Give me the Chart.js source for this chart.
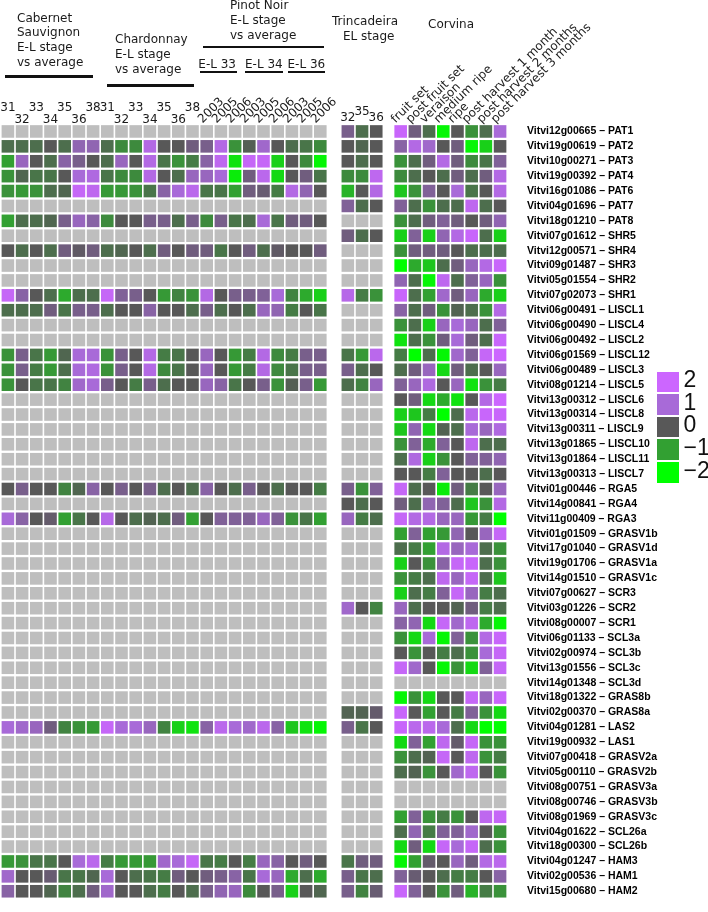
<!DOCTYPE html>
<html>
<head>
<meta charset="utf-8">
<script src="https://cdn.jsdelivr.net/npm/chart.js@4.4.1/dist/chart.umd.min.js"></script>
<style>
  body { margin: 0; background: #fff; }
  #wrap { position: relative; width: 708px; height: 912px; overflow: hidden; }
  #wrap canvas { position: absolute; left: 0; top: 0; }
  .t { position: absolute; font-family: 'DejaVu Sans', sans-serif; font-size: 12px; line-height: 14.8px; color: #1a1a1a; white-space: nowrap; }
  .rot { transform-origin: 0 100%; transform: rotate(-45deg); line-height: 12px; }
  .rule { position: absolute; background: #111; }
  .sw { position: absolute; left: 657px; width: 21.6px; height: 20.5px; }
  .lg { position: absolute; left: 683.5px; font-family: 'Liberation Sans', Arial, sans-serif; font-size: 23px; line-height: 21px; color: #111; }
</style>
</head>
<body>
<div id="wrap">
  <canvas id="heat" width="708" height="912"></canvas>

  <div class="t" style="left:17px;top:10.5px">Cabernet<br>Sauvignon<br>E-L stage<br>vs average</div>
  <div class="rule" style="left:5px;top:75px;width:88px;height:3px"></div>
  <div class="t" style="left:115px;top:32.3px">Chardonnay<br>E-L stage<br>vs average</div>
  <div class="rule" style="left:107px;top:83.5px;width:86.5px;height:3px"></div>
  <div class="t" style="left:230px;top:-1.8px">Pinot Noir<br>E-L stage<br>vs average</div>
  <div class="rule" style="left:203px;top:45.7px;width:120.5px;height:2.7px"></div>
  <div class="t" style="left:198.3px;top:57.2px">E-L 33</div>
  <div class="t" style="left:245px;top:57.2px">E-L 34</div>
  <div class="t" style="left:287.5px;top:57.2px">E-L 36</div>
  <div class="rule" style="left:200px;top:70.7px;width:37.3px;height:2.7px"></div>
  <div class="rule" style="left:245px;top:70.7px;width:38.3px;height:2.7px"></div>
  <div class="rule" style="left:288.3px;top:70.7px;width:36.7px;height:2.7px"></div>
  <div class="t" style="left:332px;top:13.9px">Trincadeira</div>
  <div class="t" style="left:343px;top:28.9px">EL stage</div>
  <div class="t" style="left:428px;top:17.2px">Corvina</div>
</div>
<script>
// genes (rows, top to bottom)
const genes = [
  'Vitvi12g00665 – PAT1', 'Vitvi19g00619 – PAT2', 'Vitvi10g00271 – PAT3', 'Vitvi19g00392 – PAT4',
  'Vitvi16g01086 – PAT6', 'Vitvi04g01696 – PAT7', 'Vitvi18g01210 – PAT8', 'Vitvi07g01612 – SHR5',
  'Vitvi12g00571 – SHR4', 'Vitvi09g01487 – SHR3', 'Vitvi05g01554 – SHR2', 'Vitvi07g02073 – SHR1',
  'Vitvi06g00491 – LISCL1', 'Vitvi06g00490 – LISCL4', 'Vitvi06g00492 – LISCL2', 'Vitvi06g01569 – LISCL12',
  'Vitvi06g00489 – LISCL3', 'Vitvi08g01214 – LISCL5', 'Vitvi13g00312 – LISCL6', 'Vitvi13g00314 – LISCL8',
  'Vitvi13g00311 – LISCL9', 'Vitvi13g01865 – LISCL10', 'Vitvi13g01864 – LISCL11', 'Vitvi13g00313 – LISCL7',
  'Vitvi01g00446 – RGA5', 'Vitvi14g00841 – RGA4', 'Vitvi11g00409 – RGA3', 'Vitvi01g01509 – GRASV1b',
  'Vitvi17g01040 – GRASV1d', 'Vitvi19g01706 – GRASV1a', 'Vitvi14g01510 – GRASV1c', 'Vitvi07g00627 – SCR3',
  'Vitvi03g01226 – SCR2', 'Vitvi08g00007 – SCR1', 'Vitvi06g01133 – SCL3a', 'Vitvi02g00974 – SCL3b',
  'Vitvi13g01556 – SCL3c', 'Vitvi14g01348 – SCL3d', 'Vitvi18g01322 – GRAS8b', 'Vitvi02g00370 – GRAS8a',
  'Vitvi04g01281 – LAS2', 'Vitvi19g00932 – LAS1', 'Vitvi07g00418 – GRASV2a', 'Vitvi05g00110 – GRASV2b',
  'Vitvi08g00751 – GRASV3a', 'Vitvi08g00746 – GRASV3b', 'Vitvi08g01969 – GRASV3c', 'Vitvi04g01622 – SCL26a',
  'Vitvi18g00300 – SCL26b', 'Vitvi04g01247 – HAM3', 'Vitvi02g00536 – HAM1', 'Vitvi15g00680 – HAM2'
];

const cabernetStages = ['31', '32', '33', '34', '35', '36', '38'];
const chardonnayStages = ['31', '32', '33', '34', '35', '36', '38'];
const pinotYears = ['2003', '2005', '2006', '2003', '2005', '2006', '2003', '2005', '2006'];
const trincadeiraStages = ['32', '35', '36'];
const corvinaStages = ['fruit set', 'post fruit set', 'veraison', 'medium ripe', 'ripe',
  'post harvest 1 month', 'post harvest 2 months', 'post harvest 3 months'];
const legendTicks = [2, 1, 0, -1, -2];

// values per gene (null row = no data)
const cabernet = [
  null,
  [-0.3, -0.3, -0.3, 0, -0.3, 0.7, 0.7],
  [-1, 0.8, 0, -0.3, 0.6, 0.4, 0],
  [-0.8, -0.2, -0.4, -0.4, 0, 1.0, 1.2],
  [-0.8, -0.9, -0.8, -0.3, -0.2, 1.8, 1.6],
  null,
  [-1, -0.3, -0.3, -0.2, 0.4, 0.8, 0.6],
  null,
  [0, -0.3, 0, -0.3, 0.3, 0.1, 0.3],
  null, null,
  [1.8, 0.6, 0, -0.3, -1.1, -0.3, -0.3],
  [-0.3, -0.3, -0.3, 0.3, -0.4, 0.4, 0.4],
  null, null,
  [-0.8, 0.4, -0.4, -0.9, -0.2, 1.0, 1.0],
  [-0.8, 0.4, -0.5, -0.9, -0.3, 1.0, 1.2],
  [-0.8, 0, -0.4, -0.4, -0.6, 0.9, 1.0],
  null, null, null, null, null, null,
  [0, 0.4, 0, 0, -0.6, -0.2, 0.6],
  null,
  [1.0, 0.6, 0, 0.15, -1.0, -0.4, 0],
  null, null, null, null, null, null, null, null, null, null, null, null, null,
  [1.0, 0.9, 0.8, 0.3, -0.6, -0.8, -0.9],
  null, null, null, null, null, null, null, null,
  [-0.9, -0.8, -0.4, -0.4, 0, 1.0, 1.5],
  [0.9, 0, 0, 0.2, -0.4, -0.4, -0.2],
  [0.6, 0, 0, -0.2, -0.6, -0.3, 0.3]
];

const chardonnay = [
  null,
  [-0.3, -0.7, -0.7, 1.3, 0, 0, 0.3],
  [-0.3, 0.8, 0, 1.3, -0.4, -0.8, -0.5],
  [-0.4, -0.7, -0.7, 1.3, 0, -0.3, 0.8],
  [-0.9, -0.9, -0.8, -0.4, 0.6, 1.0, 1.5],
  null,
  [-0.7, 0, 0, 0.4, 0.4, -0.3, 0.4],
  null,
  [-0.3, -0.2, 0, -0.3, 0.3, 0, 0.3],
  null, null,
  [1.8, 0.5, 0.4, 0, -0.9, -0.6, -0.8],
  [-0.3, 0, 0, 0.6, 0, 0, -0.3],
  null, null,
  [-0.8, 0.4, 0, 1.3, -0.5, -0.4, 0],
  [-0.8, 0.4, 0, 1.3, -0.7, -0.4, 0],
  [0.4, 0, -0.5, 0.4, -0.3, 0, 0],
  null, null, null, null, null, null,
  [0, 0.4, 0, 0.4, -0.3, 0, -0.3],
  null,
  [1.4, 0, -0.3, -0.15, -0.3, 0.3, -1.0],
  null, null, null, null, null, null, null, null, null, null, null, null, null,
  [1.8, 1.0, 1.0, 0.8, -0.6, -1.5, -1.7],
  null, null, null, null, null, null, null, null,
  [-0.5, -0.9, -0.9, -0.9, 0.9, 1.0, 1.8],
  [1.0, 0, -0.3, -0.4, -0.5, 0.3, 0],
  [0.9, 0, 0, -0.3, -0.5, 0, -0.3]
];

const pinotNoir = [
  null,
  [0.4, 1.3, -0.8, -0.1, 0.9, 0, -0.3, -0.4, -0.7],
  [0.6, 1.6, -1.7, 1.8, 1.8, -1.5, 0, -0.7, -1.9],
  [0.8, 1.0, -1.8, 0.3, 1.5, -1.6, 0, 0.3, -0.4],
  [-0.4, -0.4, -1.0, 0.3, 0.2, -0.5, 1.3, 0.7, 0],
  null,
  [-0.7, 0.4, -0.4, -0.3, 1.0, -0.4, 0.3, 0.3, 0],
  null,
  [0.3, -0.4, 0, 0.3, -0.3, 0.1, 0, 0, 0.3],
  null, null,
  [1.3, 0, 0.4, 0.4, 0.5, 1.0, -0.6, -1.1, -1.5],
  [0.4, -0.3, 0, -0.3, 0.8, 0.7, -0.5, 0, -0.4],
  null, null,
  [0.8, 0, -0.9, -0.5, 1.3, -0.7, -0.5, 0.4, 0.4],
  [0.8, 0, -0.9, -0.5, 1.3, -0.7, -0.4, 0.4, 0.4],
  [0.8, 0.6, -0.4, 0, 0.4, -0.8, -0.1, 0.4, -0.9],
  null, null, null, null, null, null,
  [0.6, 0, -0.3, 0.4, 0, -0.3, 0, 0, -0.5],
  null,
  [0, 0.5, 0.5, 0.5, 0.8, 0.5, -0.8, -0.4, -1.0],
  null, null, null, null, null, null, null, null, null, null, null, null, null,
  [0.6, 1.5, 1.0, 0.9, 1.5, 0.6, -1.4, -1.7, -1.9],
  null, null, null, null, null, null, null, null,
  [-0.4, -0.5, 0, -0.5, 0.8, 0.6, 0, 0.3, 0],
  [0.3, 0.4, 0.6, -0.4, 1.0, 0.8, -1.1, -0.3, -1.1],
  [0.4, 0.7, 0.8, -0.7, 0, 0.4, -1.5, 0, -0.2]
];

const trincadeira = [
  [0.4, -0.3, 0], [0, -0.2, 0], [0, -0.3, 0], [-0.7, -0.7, 1.6], [-1.2, 0, 1.3], [0.5, -0.3, 0],
  null,
  [0.3, -0.3, 0],
  null, null, null,
  [1.4, -0.5, -0.8],
  null, null, null,
  [-0.4, -0.9, 1.5], [0.4, -0.3, 0], [-0.3, -0.6, 0.8],
  null, null, null, null, null, null,
  [0.4, -0.8, 0.5], [0, -0.3, 0], [0.8, -0.5, -0.3],
  null, null, null, null, null,
  [0.9, 0, -0.6],
  null, null, null, null, null, null,
  [-0.15, -0.15, 0.15], [0.4, -0.4, 0],
  null, null, null, null, null, null, null, null,
  [-0.4, 0.3, 0.3], [0.4, -0.4, -0.3], [0.4, -0.6, 0.2]
];

const corvina = [
  [1.9, 0.3, -0.3, -1.9, 0, -0.8, -0.3, 1.0],
  [0.6, 1.3, 0.9, 0, 0.3, -1.9, -1.5, 0],
  [-0.8, -0.3, 0.3, 1.3, 0.3, -0.7, -0.4, 0.5],
  [-0.7, -0.3, 0, -0.3, 0.3, -0.3, 0.3, 1.3],
  [-1.4, -0.8, 0.5, 0, 1.0, -0.4, 0, 1.3],
  [0.5, -0.3, -0.8, -0.3, -0.3, 1.6, -0.3, 0],
  [-0.8, -0.3, 0.3, 0.5, 0.3, 0, 0.3, 0.7],
  [-1.5, 0.5, -1.5, 0.7, 1.3, 1.9, -0.3, -1.5],
  [-0.8, 0.3, 0.3, 0.3, 0, -0.3, -0.3, -0.3],
  [-2, -1.1, -1.4, -0.3, 0.3, 0.8, 1.3, 1.9],
  [0.7, -0.3, -1.9, 1.6, -0.3, 0.5, 0.8, -0.8],
  [1.9, -0.3, -1.0, 0.9, 0.3, 0.8, -1.1, -1.5],
  [0.6, -0.3, 0.3, -0.8, -0.15, -0.3, -0.8, 1.3],
  [-0.8, -0.3, -1.5, 0.8, 1.0, 0.8, -0.3, 0.5],
  [-1.7, -0.3, -0.8, 0.3, 1.0, 0.3, -0.3, 1.9],
  [-0.5, -2, -0.3, -1.9, 0.9, 0.5, 1.8, 2],
  [-0.3, 0.3, 0.8, -1.6, 0.3, -0.3, 0, 0.8],
  [0.5, 0.8, 1.2, 0, 0.8, -1.7, -0.8, -0.5],
  [0, 0.3, -1.6, -1.1, -1.7, 0, 1.3, 2],
  [-1.5, -1.4, -0.5, -2, -0.3, 1.5, 1.9, 1.9],
  [-1.4, 0.7, -1.6, -0.15, -0.3, 1.0, 0.8, 1.2],
  [-0.8, 0.5, -1.1, 0.5, 0, 1.6, -0.3, -0.3],
  [-0.3, 1.2, -1.5, -0.8, 0, 0.5, 0.5, 0.7],
  [0, 0, -0.5, 0.5, 0, 0, -0.3, 0],
  [1.8, -0.3, 0, -1.8, 0.3, -0.5, 0, 0.8],
  [0.3, -0.3, 0.7, 0.5, -0.3, -1.4, -0.8, 1.3],
  [1.8, 1.3, 1.3, 0.8, 0.8, -0.9, -0.5, -2],
  [-1.0, 0.5, -1.0, -0.9, 0.7, 0, 0.8, 1.8],
  [-0.3, -0.5, -1.0, 1.3, 0.8, 1.0, -0.3, -0.8],
  [-1.5, 0, -0.8, 0.6, 1.8, 1.9, -0.3, -0.8],
  [-0.8, -0.5, -0.3, 1.6, 0.8, 1.8, -0.3, -1.4],
  [-1.5, -0.3, -0.5, 0.5, 1.8, 0.8, -0.5, -0.3],
  [0.8, -0.3, 0, 0, -0.15, 0.3, -0.5, -0.3],
  [0.6, 0.7, -1.6, 1.8, 0.9, 1.6, -1.1, -1.9],
  [-0.8, -1.6, 1.0, -1.9, 0.5, -0.8, 1.3, 1.9],
  [0, -0.8, 0, -0.5, -0.3, -0.8, 1.0, 1.8],
  [1.8, 0.9, 0, -1.9, -0.8, -1.6, 0.5, 1.8],
  null,
  [-1.9, -0.8, -1.6, 0, 0, 1.8, 0.8, 1.9],
  [1.9, 0, -1.0, 0, -0.5, 0.5, -0.8, -1.6],
  [1.9, 1.5, 1.5, 1.0, -0.3, -1.6, -2, -2],
  [-1.6, 0.5, -1.0, 1.6, 0.15, 1.8, -0.8, -0.8],
  [-0.8, -0.3, -0.15, 1.8, 0, 1.6, -0.8, -0.5],
  [-0.3, -0.15, -0.8, 0, 0.9, 1.6, 0, -0.8],
  null, null,
  [-1.0, 0.5, -0.8, -0.5, -0.8, 0, 1.6, 1.8],
  [-0.3, 0.7, -0.5, 0.5, 0.5, 0.9, 0, -0.8],
  [-1.6, 0.3, -1.6, 1.8, 1.0, 1.8, -0.3, -0.8],
  [-1.9, -1.0, 0.15, 0, 0.8, 0.3, 1.3, 1.5],
  [0.5, 0.2, 0, -0.3, -0.5, -0.5, 0, 0.6],
  [1.9, 0.5, 0, -0.8, 0.3, -1.2, -0.5, -0.8]
];

// colour scale: green (-2) .. grey (0) .. violet (2), missing = light grey
const stops = [[-2, [0, 255, 0]], [-1, [50, 160, 50]], [0, [88, 88, 88]], [1, [168, 106, 216]], [2, [204, 102, 255]]];
function colorFor(v) {
  if (v === null || v === undefined) return '#bebebe';
  v = Math.max(-2, Math.min(2, v));
  for (let i = 0; i < stops.length - 1; i++) {
    const [a, ca] = stops[i];
    const [b, cb] = stops[i + 1];
    if (v <= b) {
      const t = (v - a) / (b - a);
      return `rgb(${ca.map((c, k) => Math.round(c + (cb[k] - c) * t)).join(',')})`;
    }
  }
}

// column slots (1 slot = one cell width)
const COL_PX = 14.2, FIRST_PX = 7.9, AREA_RIGHT = 512;
const blocks = [
  { data: cabernet, start: 0, labels: cabernetStages },
  { data: chardonnay, start: 7, labels: chardonnayStages },
  { data: pinotNoir, start: 14, labels: pinotYears },
  { data: trincadeira, start: 23.94, labels: trincadeiraStages },
  { data: corvina, start: 27.66, labels: corvinaStages }
];

const datasets = blocks.map(b => ({
  data: b.data.flatMap((row, r) => (row || b.labels.map(() => null)).map((v, c) => ({ x: b.start + c, y: r, v }))),
  pointStyle: 'rect',
  pointRadius: 8.9,
  pointHoverRadius: 8.9,
  pointBorderWidth: 0,
  pointHoverBorderWidth: 0,
  pointBackgroundColor: ctx => colorFor(ctx.raw ? ctx.raw.v : null),
  pointHoverBackgroundColor: ctx => colorFor(ctx.raw ? ctx.raw.v : null),
  clip: false
}));

const chart = new Chart(document.getElementById('heat'), {
  type: 'scatter',
  data: { datasets },
  options: {
    responsive: false,
    animation: false,
    events: [],
    layout: { autoPadding: false, padding: { left: 0, right: 0, top: 124, bottom: 1 } },
    plugins: { legend: { display: false }, tooltip: { enabled: false } },
    scales: {
      x: {
        type: 'linear', display: false,
        min: -FIRST_PX / COL_PX, max: (AREA_RIGHT - FIRST_PX) / COL_PX
      },
      y: {
        type: 'linear', position: 'right', reverse: true,
        min: -0.5, max: genes.length - 0.5,
        afterBuildTicks: axis => { axis.ticks = genes.map((_, i) => ({ value: i })); },
        afterFit: axis => { axis.width = 708 - AREA_RIGHT; },
        grid: { display: false },
        border: { display: false },
        ticks: {
          autoSkip: false, padding: 7, color: '#000',
          font: { family: "'Liberation Sans', Arial, sans-serif", size: 10.5, weight: 'bold' },
          callback: v => genes[v]
        }
      }
    }
  }
});

// column labels placed from the x scale
const wrap = document.getElementById('wrap');
const xs = chart.scales.x;
function addText(txt, left, top, cls) {
  const d = document.createElement('div');
  d.className = cls;
  d.textContent = txt;
  d.style.left = left + 'px';
  d.style.top = top + 'px';
  wrap.appendChild(d);
  return d;
}
function addCentered(txt, cx, top) {
  const d = addText(txt, cx, top, 't');
  d.style.transform = 'translateX(-50%)';
}
[blocks[0], blocks[1]].forEach(b => {
  b.labels.forEach((l, i) => addCentered(l, xs.getPixelForValue(b.start + i), i % 2 === 0 ? 99.5 : 112.2));
});
blocks[3].labels.forEach((l, i) => addCentered(l, xs.getPixelForValue(blocks[3].start + i), i === 1 ? 103.9 : 109.5));
[blocks[2], blocks[4]].forEach(b => {
  b.labels.forEach((l, i) => addText(l, xs.getPixelForValue(b.start + i) - 3.2, 112.8, 't rot'));
});

// colour legend
const swTops = [371.7, 394.2, 416.7, 439.2, 462.2];
legendTicks.forEach((v, i) => {
  const s = document.createElement('div');
  s.className = 'sw';
  s.style.top = swTops[i] + 'px';
  s.style.background = colorFor(v);
  wrap.appendChild(s);
  addText(v < 0 ? '\u2212' + Math.abs(v) : String(v), 683.5, swTops[i] - 2.3, 'lg');
});
</script>
</body>
</html>
